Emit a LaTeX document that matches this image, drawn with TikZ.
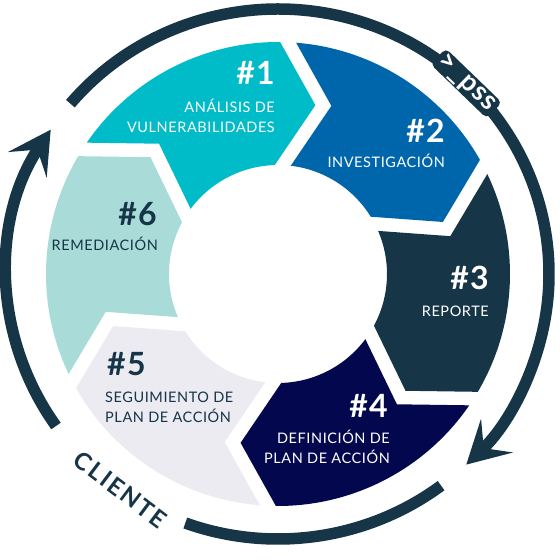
\documentclass[tikz,border=0pt]{standalone}
\usepackage{fontspec}
\setmainfont{Lato}
\newfontfamily\labelfont{Lato}[LetterSpace=4]
\newfontfamily\numfont{Lato}[LetterSpace=4]
\newfontfamily\wideletters{Lato}[LetterSpace=9]
\usetikzlibrary{arrows.meta,positioning}
\definecolor{segone}{HTML}{00BBC8}
\definecolor{segtwo}{HTML}{0066AC}
\definecolor{segthree}{HTML}{163547}
\definecolor{segfour}{HTML}{03074D}
\definecolor{segfive}{HTML}{ECEBF2}
\definecolor{segsix}{HTML}{A9DCD8}
\definecolor{ringdark}{HTML}{163547}
% segment geometry (pt)
\newcommand\segRo{232}
\newcommand\segRi{109}
\newcommand\segMid{170.3}
\newcommand\segGap{8}
\newcommand\segTip{38}
\tikzset{
  segnum/.style={
    font=\numfont\bfseries\fontsize{32}{32}\selectfont,
    text=#1, inner sep=0pt
  },
  segnum/.default=white,
  seglabel/.style={
    font=\labelfont\fontsize{14.5}{18}\selectfont,
    text=#1, inner sep=0pt
  },
  seglabel/.default=white,
  ringline/.style={draw=ringdark, line width=11.5pt},
  ringarrow/.style={ringline, -{Stealth[length=42pt, width=46pt, inset=18pt]}},
  badge/.style={
    rectangle, rounded corners=5pt, fill=ringdark, text=white,
    minimum width=78pt, minimum height=22pt, inner sep=0pt,
    font=\labelfont\bfseries\fontsize{27}{27}\selectfont
  },
  clientlabel/.style={
    text=ringdark, inner sep=0pt,
    font=\wideletters\bfseries\fontsize{24}{24}\selectfont
  },
}

\begin{document}
\begin{tikzpicture}[x=1pt, y=1pt]
  \useasboundingbox (-278,-286) rectangle (282,274);

  % chevron ring
  \foreach \k/\col in {1/segone,2/segtwo,3/segthree,4/segfour,5/segfive,6/segsix}{
    \begin{scope}[rotate={147.5-60*\k}]
      \fill[\col] ({60-asin(\segGap/\segRo)}:\segRo)
        arc[start angle={60-asin(\segGap/\segRo)}, end angle={asin(\segGap/\segRo)}, radius=\segRo]
        -- ({atan2(\segGap-\segTip,\segMid)}:{veclen(\segMid,\segTip-\segGap)})
        -- ({asin(\segGap/\segRi)}:\segRi)
        arc[start angle={asin(\segGap/\segRi)}, end angle={60-asin(\segGap/\segRi)}, radius=\segRi]
        -- ({60+atan2(-\segGap-\segTip,\segMid)}:{veclen(\segMid,\segGap+\segTip)})
        -- cycle;
    \end{scope}
  }

  % step texts
  \node[segnum, anchor=base east] (n1) at (-3,189) {\#1};
  \node[seglabel, anchor=base east] (l1a) at (-3,161) {ANÁLISIS DE};
  \node[seglabel, anchor=base east] (l1b) at ([yshift=-19.5pt]l1a.base east) {VULNERABILIDADES};

  \node[segnum, anchor=base east] (n2) at (167,131) {\#2};
  \node[seglabel, anchor=base east] (l2) at (167,106.5) {INVESTIGACIÓN};

  \node[segnum, anchor=base east] (n3) at (211,-15) {\#3};
  \node[seglabel, anchor=base east] (l3) at (211,-42) {REPORTE};

  \node[segnum, anchor=base east] (n4) at (110,-143) {\#4};
  \node[seglabel, anchor=base east] (l4a) at (112,-169.5) {DEFINICIÓN DE};
  \node[seglabel, anchor=base east] (l4b) at ([yshift=-20pt]l4a.base east) {PLAN DE ACCIÓN};

  \node[segnum=ringdark, anchor=base west] (n5) at (-171,-101) {\#5};
  \node[seglabel=ringdark, anchor=base west] (l5a) at (-173,-128) {SEGUIMIENTO DE};
  \node[seglabel=ringdark, anchor=base west] (l5b) at ([yshift=-20pt]l5a.base west) {PLAN DE ACCIÓN};

  \node[segnum=ringdark, anchor=base east] (n6) at (-121,48.5) {\#6};
  \node[seglabel=ringdark, anchor=base east] (l6) at (-120,23.5) {REMEDIACIÓN};

  % outer cycle
  \draw[ringarrow] (140:271 and 265) arc[start angle=140, end angle=-46, x radius=271, y radius=265];
  \draw[ringarrow] (215:271 and 265) arc[start angle=215, end angle=147, x radius=271, y radius=265];
  \draw[ringline] (250:271 and 265) arc[start angle=250, end angle=307, x radius=271, y radius=265];

  \node[badge, rotate=-44] (pss) at (46:271 and 265) {>\_pss};
  \node[clientlabel, rotate=-37] (cliente) at (234.5:271 and 265) {CLIENTE};
\end{tikzpicture}
\end{document}
